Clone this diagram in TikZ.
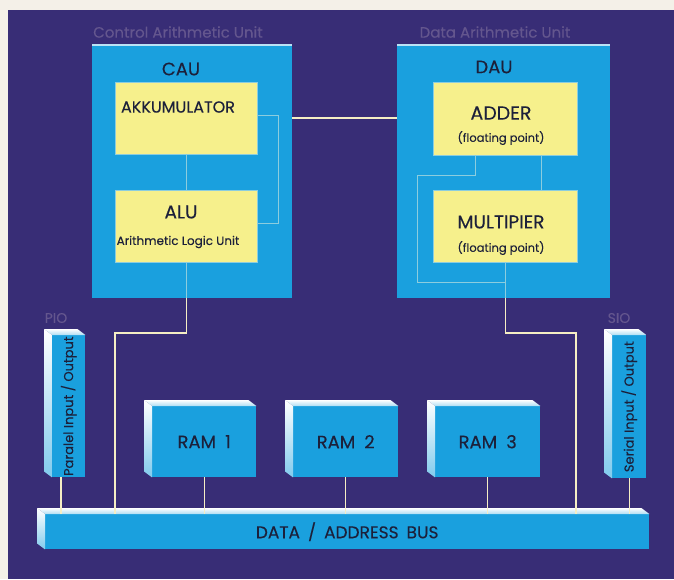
\documentclass[tikz,border=0pt]{standalone}
\usepackage{fontspec}
\setmainfont{Poppins}[FakeBold=0.2]
\usetikzlibrary{positioning,calc}
\definecolor{paper}{RGB}{244,240,232}
\definecolor{night}{RGB}{56,45,118}
\definecolor{chipblue}{RGB}{26,160,222}
\definecolor{lemon}{RGB}{246,240,140}
\definecolor{wire}{RGB}{246,238,196}
\definecolor{ghost}{RGB}{100,86,142}
\definecolor{ink}{RGB}{28,32,58}
\definecolor{trace}{RGB}{140,205,222}
\newcommand{\fsz}[1]{\fontsize{#1}{#1}\selectfont}
\newcommand{\bevel}[1]{%
  \shade[top color=white, bottom color=chipblue!35!white] (#1.north west) -- ++(-8,-6) -- ($(#1.north east)+(-8,-6)$) -- (#1.north east) -- cycle;
  \shade[top color=white, bottom color=chipblue!55!white] (#1.north west) -- ++(-8,-6) -- ($(#1.south west)+(-8,-6)$) -- (#1.south west) -- cycle;}
\tikzset{
  unit/.style={fill=chipblue, inner sep=0pt, anchor=north west},
  reg/.style={fill=lemon, draw=trace, line width=0.4pt, inner sep=0pt, anchor=north west},
  block/.style={fill=chipblue, inner sep=0pt, anchor=north west, text=ink},
  wire/.style={draw=wire, line width=1.4pt},
  trace/.style={draw=trace, line width=0.6pt},
  caption/.style={text=ghost, font=\fsz{15}},
  label/.style={text=ink, inner sep=0pt},
}

\begin{document}
\begin{tikzpicture}[x=1pt, y=-1pt]
  \useasboundingbox (0,0) rectangle (674,579);
  \fill[paper] (0,0) rectangle (674,579);
  \fill[night] (8,10) rectangle (674,579);

  \node[unit, minimum width=200pt, minimum height=253pt] (cau) at (92,45) {};
  \node[unit, minimum width=213pt, minimum height=253pt] (dau) at (397,45) {};
  \draw[chipblue!30!white, line width=1.5pt] (cau.north west) -- (cau.north east);
  \draw[chipblue!30!white, line width=1.5pt] (dau.north west) -- (dau.north east);
  \node[caption] (cauname) at (178,32) {Control Arithmetic Unit};
  \node[caption] (dauname) at (495,32) {Data Arithmetic Unit};
  \node[label, font=\fsz{18}] (cautitle) at (181,69) {CAU};
  \node[label, font=\fsz{18}] (dautitle) at (494,67) {DAU};

  \node[reg, minimum width=142pt, minimum height=72pt] (akku) at (115,82) {};
  \node[reg, minimum width=142pt, minimum height=72pt] (alu) at (115,190) {};
  \node[reg, minimum width=144pt, minimum height=73pt] (adder) at (433,82) {};
  \node[reg, minimum width=144pt, minimum height=72pt] (mult) at (433,190) {};
  \node[label, font=\fsz{16}] (akkutext) at (178,107) {AKKUMULATOR};
  \node[label, font=\fsz{18.5}] (alutext) at (181,212) {ALU};
  \node[label, font=\fsz{12}] (aluinfo) at (178,242) {Arithmetic Logic Unit};
  \node[label, font=\fsz{19}] (addertext) at (501,113) {ADDER};
  \node[label, font=\fsz{11.5}] (adderinfo) at (501,138) {(floating point)};
  \node[label, font=\fsz{18.5}] (multtext) at (501,222) {MULTIPIER};
  \node[label, font=\fsz{11.5}] (multinfo) at (501,248) {(floating point)};

  \node[block, minimum width=104pt, minimum height=71pt, font=\fsz{18}] (ram1) at (152,406) {RAM\hspace{9pt}1};
  \node[block, minimum width=105pt, minimum height=71pt, font=\fsz{18}] (ram2) at (293,406) {RAM\hspace{9pt}2};
  \node[block, minimum width=105pt, minimum height=71pt, font=\fsz{18}] (ram3) at (435,406) {RAM\hspace{9pt}3};
  \node[block, minimum width=33pt, minimum height=142pt] (pio) at (52,335) {};
  \node[block, minimum width=34pt, minimum height=143pt] (sio) at (612,335) {};
  \node[block, minimum width=604pt, minimum height=35pt, font=\fsz{17}] (bus) at (45,514) {DATA\hspace{8pt}/\hspace{8pt}ADDRESS\hspace{8pt}BUS\hspace{18pt}};
  \node[label, rotate=90, font=\fsz{13}] (piotext) at (pio.center) {Paralel Input / Output};
  \node[label, rotate=90, font=\fsz{13}] (siotext) at (sio.center) {Serial Input / Output};
  \node[caption, font=\fsz{14}] (pioname) at (56,318) {PIO};
  \node[caption, font=\fsz{14}] (sioname) at (619,318) {SIO};
  \foreach \b in {ram1,ram2,ram3,pio,sio,bus}
    \bevel{\b};

  \draw[trace] (akku) -- (alu);
  \draw[trace] ([yshift=-33pt]akku.north east) -- ++(21,0) |- ([yshift=-33pt]alu.north east);
  \draw[trace] ([xshift=108pt]adder.south west) -- ([xshift=108pt]mult.north west);
  \draw[trace] ([xshift=42pt]adder.south west) -- ++(0,20) -- ++(-58,0) |- ($(mult.south)+(0,20)$);
  \draw[trace] (alu.south) -- (alu.south |- cau.south);
  \draw[trace] (mult.south) -- (mult.south |- dau.south);

  \coordinate (caudrop) at (115,333);
  \coordinate (daudrop) at (576,333);
  \coordinate (piotap) at ([xshift=9pt]pio.south west);
  \draw[wire] ([yshift=-73pt]cau.north east) -- ([yshift=-73pt]dau.north west);
  \draw[wire] (alu.south |- cau.south) |- (caudrop) -- (caudrop |- bus.north);
  \draw[wire] (mult.south |- dau.south) |- (daudrop) -- (daudrop |- bus.north);
  \draw[wire] (piotap) -- (piotap |- bus.north);
  \draw[wire] (sio.south) -- (sio.south |- bus.north);
  \foreach \r in {ram1,ram2,ram3}
    \draw[wire] (\r.south) -- (\r.south |- bus.north);
\end{tikzpicture}
\end{document}
